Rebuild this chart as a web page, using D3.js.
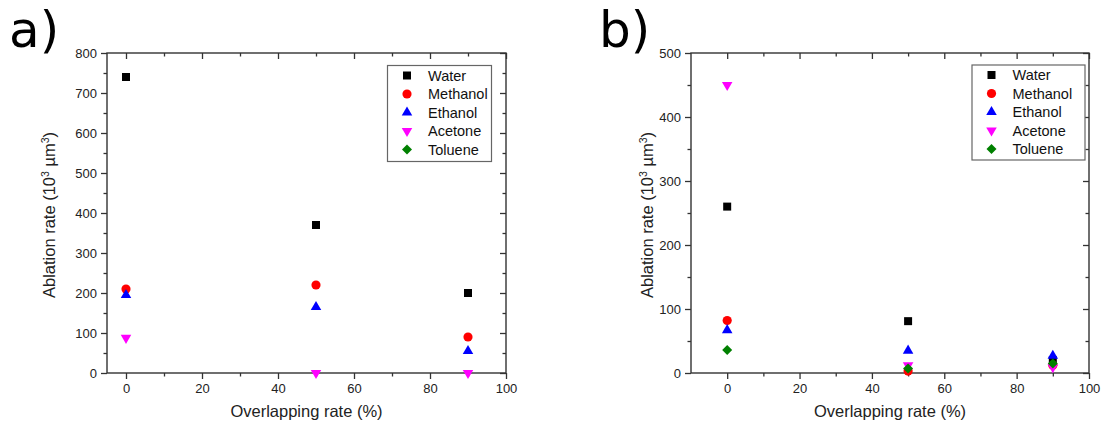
<!DOCTYPE html>
<html>
<head>
<meta charset="utf-8">
<script src="https://cdn.jsdelivr.net/npm/d3@7"></script>
<style>
  body { margin: 0; background: #fff; }
  svg { display: block; font-family: "Liberation Sans", Arial, sans-serif; }
</style>
</head>
<body>
<svg id="chart" width="1103" height="425"></svg>
<script>
// overlapping rate (%) for every series
const overlap = [0, 50, 90];
const seriesNames = ["Water", "Methanol", "Ethanol", "Acetone", "Toluene"];

// panel a) ablation rate (10^3 um^3)
const waterA = [740, 370, 200];
const methanolA = [210, 220, 90];
const ethanolA = [195, 165, 55];
const acetoneA = [88, 0, 0];
const tolueneA = [null, null, null]; // no toluene points in a)

// panel b)
const waterB = [260, 81, 20];
const methanolB = [82, 3, 12];
const ethanolB = [67, 35, 27];
const acetoneB = [450, 12, 9];
const tolueneB = [36, 7, 15];

const xTicks = [0, 20, 40, 60, 80, 100];
const yTicksA = [0, 100, 200, 300, 400, 500, 600, 700, 800];
const yTicksB = [0, 100, 200, 300, 400, 500];

const colors = ["#000000", "#ff0000", "#0000ff", "#ff00ff", "#008000"];

const svg = d3.select("#chart");

// marker paths per series
function markerPath(i) {
  if (i === 0) return d3.symbol(d3.symbolSquare, 64)();
  if (i === 1) return d3.symbol(d3.symbolCircle, 66)();
  if (i === 2) return d3.symbol(d3.symbolTriangle, 48)();
  if (i === 3) return d3.symbol(d3.symbolTriangle, 48)();
  return d3.symbol(d3.symbolSquare, 50)();
}
function markerRot(i) {
  if (i === 3) return " rotate(180)";
  if (i === 4) return " rotate(45)";
  return "";
}

const panels = [
  {
    label: "a)", labelX: 9,
    left: 107, right: 506, top: 53, bottom: 373,
    xDomain: [-5, 100], yDomain: [0, 800], yTicks: yTicksA, yMinorStep: 50,
    series: [waterA, methanolA, ethanolA, acetoneA, tolueneA],
    legend: { x: 387.5, y: 65.5, w: 104, h: 96 },
    yTitleX: 55
  },
  {
    label: "b)", labelX: 599,
    left: 691, right: 1089, top: 53, bottom: 373,
    xDomain: [-10, 100], yDomain: [0, 500], yTicks: yTicksB, yMinorStep: 50,
    series: [waterB, methanolB, ethanolB, acetoneB, tolueneB],
    legend: { x: 972, y: 65, w: 113, h: 95 },
    yTitleX: 653
  }
];

panels.forEach(p => {
  const x = d3.scaleLinear().domain(p.xDomain).range([p.left, p.right]);
  const y = d3.scaleLinear().domain(p.yDomain).range([p.bottom, p.top]);
  const g = svg.append("g");

  const xMinor = d3.range(10, 100, 20);
  const yMinor = d3.range(p.yMinorStep, p.yDomain[1], p.yMinorStep * 2);

  // bottom axis (outward ticks)
  const bottomAxis = g.append("g")
    .attr("transform", `translate(0,${p.bottom})`)
    .call(d3.axisBottom(x).tickValues(xTicks).tickSize(6).tickPadding(5).tickSizeOuter(0));
  g.append("g")
    .attr("transform", `translate(0,${p.bottom})`)
    .call(d3.axisBottom(x).tickValues(xMinor).tickSize(3.5).tickFormat("").tickSizeOuter(0));

  // left axis (outward ticks)
  const leftAxis = g.append("g")
    .attr("transform", `translate(${p.left},0)`)
    .call(d3.axisLeft(y).tickValues(p.yTicks).tickSize(6).tickPadding(4).tickSizeOuter(0));
  g.append("g")
    .attr("transform", `translate(${p.left},0)`)
    .call(d3.axisLeft(y).tickValues(yMinor).tickSize(3.5).tickFormat("").tickSizeOuter(0));

  // top axis (inward ticks)
  g.append("g")
    .attr("transform", `translate(0,${p.top})`)
    .call(d3.axisBottom(x).tickValues(xTicks).tickSize(6).tickFormat("").tickSizeOuter(0));
  g.append("g")
    .attr("transform", `translate(0,${p.top})`)
    .call(d3.axisBottom(x).tickValues(xMinor).tickSize(3.5).tickFormat("").tickSizeOuter(0));

  // right axis (inward ticks)
  g.append("g")
    .attr("transform", `translate(${p.right},0)`)
    .call(d3.axisLeft(y).tickValues(p.yTicks).tickSize(6).tickFormat("").tickSizeOuter(0));
  g.append("g")
    .attr("transform", `translate(${p.right},0)`)
    .call(d3.axisLeft(y).tickValues(yMinor).tickSize(3.5).tickFormat("").tickSizeOuter(0));

  g.selectAll(".domain").remove();
  g.selectAll(".tick line").attr("stroke", "#333").attr("stroke-width", 1.3);
  g.selectAll(".tick text")
    .attr("fill", "#222")
    .style("font-size", "13px")
    .style("font-family", "'Liberation Sans', Arial, sans-serif");

  // frame
  g.append("rect")
    .attr("x", p.left).attr("y", p.top)
    .attr("width", p.right - p.left).attr("height", p.bottom - p.top)
    .attr("fill", "none").attr("stroke", "#333").attr("stroke-width", 1.4);

  // points, drawn in series order
  p.series.forEach((vals, i) => {
    const pts = overlap.map((o, j) => ({ o: o, v: vals[j] })).filter(d => d.v !== null);
    g.selectAll(null)
      .data(pts)
      .enter()
      .append("path")
      .attr("d", markerPath(i))
      .attr("transform", d => `translate(${x(d.o)},${y(d.v)})${markerRot(i)}`)
      .attr("fill", colors[i]);
  });

  // legend
  const lg = g.append("g").attr("transform", `translate(${p.legend.x},${p.legend.y})`);
  lg.append("rect")
    .attr("width", p.legend.w).attr("height", p.legend.h)
    .attr("fill", "#fff").attr("stroke", "#666").attr("stroke-width", 1.2);
  seriesNames.forEach((name, i) => {
    const ry = 10 + i * 18.5;
    lg.append("path")
      .attr("d", markerPath(i))
      .attr("transform", `translate(19.5,${ry})${markerRot(i)}`)
      .attr("fill", colors[i]);
    lg.append("text")
      .attr("x", 40.5).attr("y", ry + 5)
      .attr("fill", "#111")
      .style("font-size", "14.5px")
      .text(name);
  });

  // axis titles
  g.append("text")
    .attr("x", (p.left + p.right) / 2).attr("y", 417)
    .attr("text-anchor", "middle")
    .attr("fill", "#222")
    .style("font-size", "16.5px")
    .text("Overlapping rate (%)");

  const yt = g.append("text")
    .attr("transform", `translate(${p.yTitleX},${(p.top + p.bottom) / 2 + 2}) rotate(-90)`)
    .attr("text-anchor", "middle")
    .attr("fill", "#222")
    .style("font-size", "16.5px");
  yt.append("tspan").text("Ablation rate (10");
  yt.append("tspan").attr("dy", -6).style("font-size", "10.5px").text("3");
  yt.append("tspan").attr("dy", 6).text(" µm");
  yt.append("tspan").attr("dy", -6).style("font-size", "10.5px").text("3");
  yt.append("tspan").attr("dy", 6).text(")");

  // panel label
  svg.append("text")
    .attr("x", p.labelX).attr("y", 47)
    .attr("fill", "#000")
    .style("font-family", "'DejaVu Sans', sans-serif")
    .style("font-size", "50px")
    .text(p.label);
});
</script>
</body>
</html>
